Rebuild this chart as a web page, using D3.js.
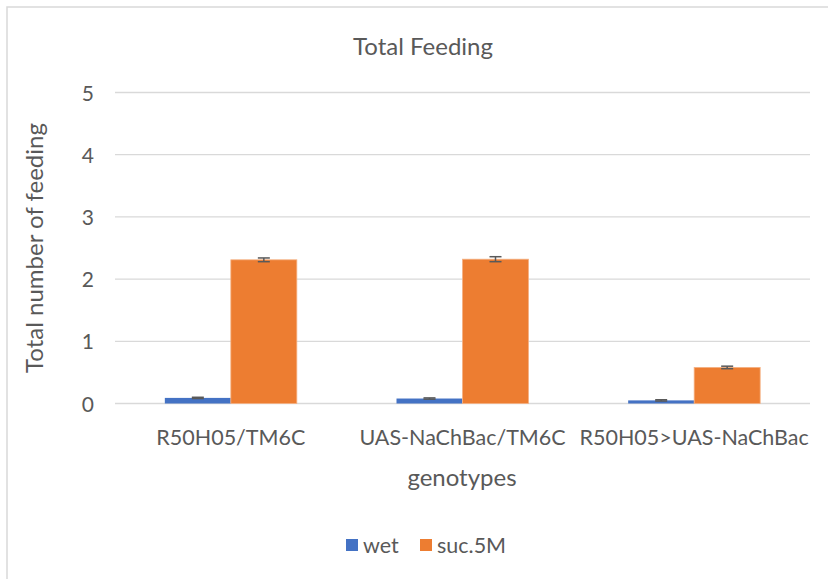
<!DOCTYPE html>
<html><head><meta charset="utf-8">
<script src="https://cdn.jsdelivr.net/npm/d3@7"></script>
<style>body{margin:0;background:#fff}svg{display:block}text{font-family:Lato,"Open Sans",sans-serif;fill:#595959}</style>
</head><body><svg id="c" width="828" height="579"></svg>
<script>
const categories = ["R50H05/TM6C", "UAS-NaChBac/TM6C", "R50H05>UAS-NaChBac"];
const seriesNames = ["wet", "suc.5M"];
const wetValues = [0.09, 0.08, 0.05];
const sucValues = [2.31, 2.32, 0.58];
const wetErrors = [0.01, 0.01, 0.01];
const sucErrors = [0.03, 0.04, 0.02];
const yTicks = [0, 1, 2, 3, 4, 5];
const colors = ["#4472C4", "#ED7D31"];

const svg = d3.select("#c");
svg.append("rect").attr("x",7).attr("y",7).attr("width",830).attr("height",590)
  .attr("fill","#fff").attr("stroke","#D9D9D9").attr("stroke-width",1.5);

const x0 = d3.scaleBand().domain(categories).range([115, 810]).paddingInner(0).paddingOuter(0);
const y = d3.scaleLinear().domain([0,5]).range([403.5, 92.5]);
const barW = 66;
const x1 = d3.scaleBand().domain(seriesNames).range([0, barW*2]);

svg.append("g").selectAll("line").data(yTicks).join("line")
  .attr("x1",115).attr("x2",810).attr("y1",d=>y(d)).attr("y2",d=>y(d))
  .attr("stroke","#D9D9D9").attr("stroke-width",1.3);

const yAxis = d3.axisLeft(y).tickValues(yTicks).tickFormat(d3.format("d")).tickSize(0).tickPadding(21);
const ya = svg.append("g").attr("transform","translate(115,0)").call(yAxis);
ya.select(".domain").remove();
ya.selectAll("text").style("font-size","21px").attr("fill","#595959").attr("dy","0.36em");

const data = [wetValues, sucValues];
const errs = [wetErrors, sucErrors];
seriesNames.forEach((s,si)=>{
  const g = svg.append("g");
  g.selectAll("rect").data(categories).join("rect")
    .attr("x",c=>x0(c)+x0.bandwidth()/2-barW+x1(s))
    .attr("y",(c,i)=>y(data[si][i]))
    .attr("width",x1.bandwidth())
    .attr("height",(c,i)=>y(0)-y(data[si][i]))
    .attr("fill",colors[si])
    .attr("stroke", si===1 ? "#F4B183" : "none").attr("stroke-width",0.8);
  categories.forEach((c,i)=>{
    const cx = x0(c)+x0.bandwidth()/2-barW+x1(s)+x1.bandwidth()/2;
    const v = data[si][i], e = errs[si][i];
    const eg = svg.append("g").attr("stroke","#595959").attr("stroke-width",1.5);
    eg.append("line").attr("x1",cx).attr("x2",cx).attr("y1",y(v+e)).attr("y2",y(v-e));
    eg.append("line").attr("x1",cx-6).attr("x2",cx+6).attr("y1",y(v+e)).attr("y2",y(v+e));
    eg.append("line").attr("x1",cx-6).attr("x2",cx+6).attr("y1",y(v-e)).attr("y2",y(v-e));
  });
});

const xAxis = d3.axisBottom(x0).tickSize(0).tickPadding(0);
const xa = svg.append("g").attr("transform","translate(0,403.5)").call(xAxis);
xa.select(".domain").remove();
xa.selectAll("text").style("font-size","21.5px").attr("fill","#595959").attr("dy",null).attr("y",33).attr("dominant-baseline","central");

svg.append("text").attr("x",423).attr("y",45).attr("text-anchor","middle").attr("dominant-baseline","central").style("font-size","24px").text("Total Feeding");
svg.append("text").attr("x",462).attr("y",476).attr("text-anchor","middle").attr("dominant-baseline","central").style("font-size","24px").text("genotypes");
svg.append("text").attr("transform","translate(33,248) rotate(-90)").attr("text-anchor","middle").attr("dominant-baseline","central").style("font-size","24px").text("Total number of feeding");

const leg = [{n:"wet",x:346},{n:"suc.5M",x:420}];
leg.forEach((l,i)=>{
  svg.append("rect").attr("x",l.x).attr("y",539).attr("width",12).attr("height",12).attr("fill",colors[i]);
  svg.append("text").attr("x",l.x+17).attr("y",545).attr("dominant-baseline","central").style("font-size","21.5px").text(l.n);
});
</script></body></html>
